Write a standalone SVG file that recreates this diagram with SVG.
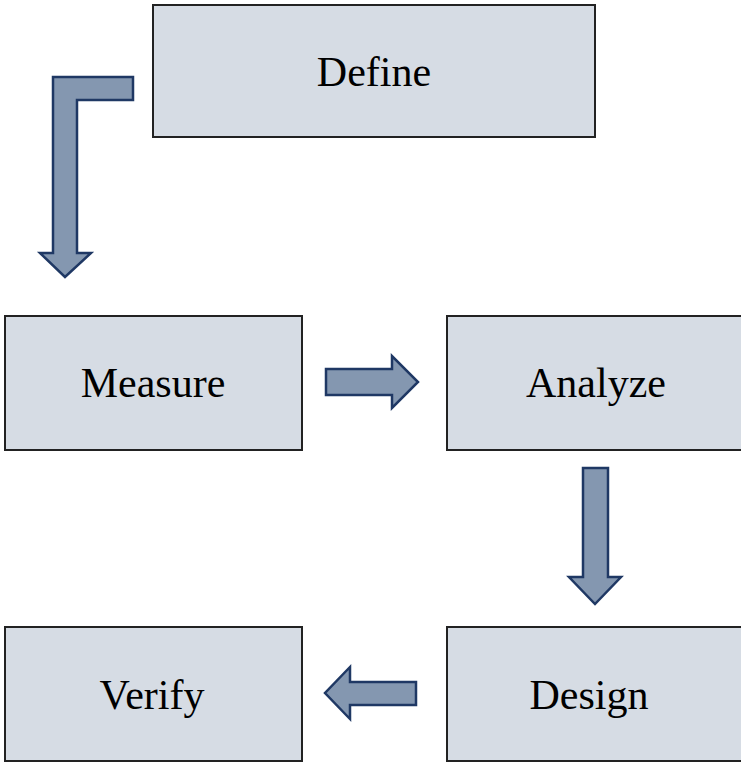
<svg xmlns="http://www.w3.org/2000/svg" width="741" height="762" viewBox="0 0 741 762">
<style>
.box{fill:#D6DCE4;stroke:#222;stroke-width:2}
.lbl{font-family:"Liberation Serif","Times New Roman",serif;font-size:42px;fill:#000;text-anchor:middle}
.arr{fill:#8497B0;stroke:#1F3864;stroke-width:2.5;stroke-linejoin:miter}
</style>
<rect width="741" height="762" fill="#fff"/>
<g id="define"><rect class="box" x="153" y="5" width="442" height="132"/><text class="lbl" x="374" y="86">Define</text></g>
<g id="measure"><rect class="box" x="5" y="316" width="297" height="134"/><text class="lbl" x="153" y="397">Measure</text></g>
<g id="analyze"><rect class="box" x="447" y="316" width="297" height="134"/><text class="lbl" x="596" y="397">Analyze</text></g>
<g id="verify"><rect class="box" x="5" y="627" width="297" height="134"/><text class="lbl" x="152" y="709">Verify</text></g>
<g id="design"><rect class="box" x="447" y="627" width="297" height="134"/><text class="lbl" x="589" y="709">Design</text></g>
<g id="connectors">
<polygon class="arr" points="53,77 133,77 133,100 77,100 77,253 91,253 65,277 40,253 53,253"/>
<polygon class="arr" points="326,369 392,369 392,356 418,382 392,408 392,395 326,395"/>
<polygon class="arr" points="583,468 608,468 608,577 621,577 595,604 569,577 583,577"/>
<polygon class="arr" points="416,682 350,682 350,667 325,693 350,719 350,705 416,705"/>
</g>
</svg>
